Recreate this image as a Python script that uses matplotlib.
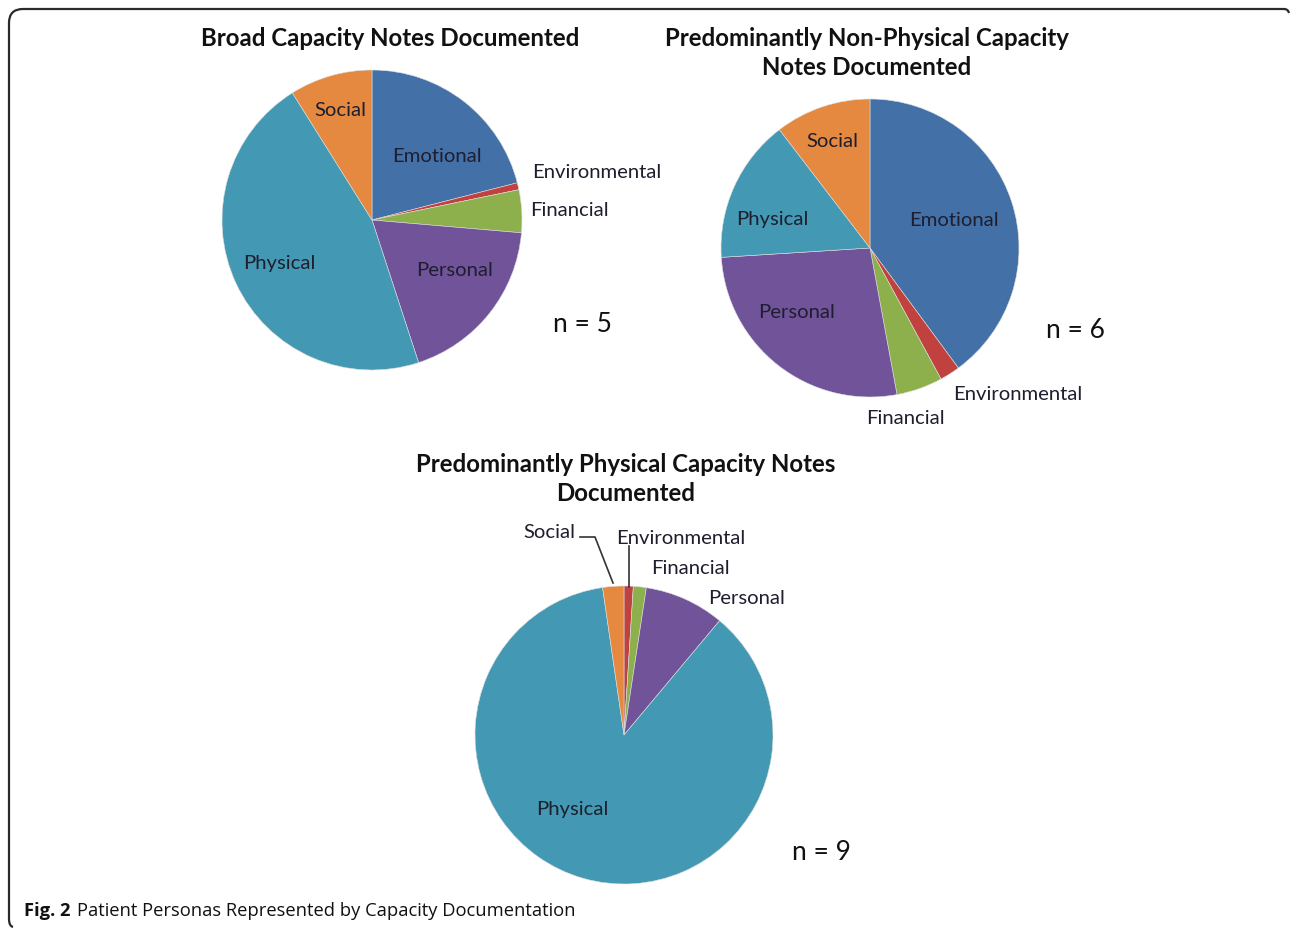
import matplotlib
matplotlib.use("Agg")
import matplotlib.pyplot as plt
from matplotlib.patches import PathPatch
from matplotlib.path import Path

W, H = 1290, 929

categories = ["Emotional", "Environmental", "Financial", "Personal", "Physical", "Social"]
broad_values = [21.0, 0.75, 4.6, 18.6, 46.1, 8.9]
nonphysical_values = [39.9, 2.2, 5.0, 26.9, 15.6, 10.4]
physical_values = [0.0, 1.0, 1.4, 8.7, 86.7, 2.3]
n_labels = ["n = 5", "n = 6", "n = 9"]
titles = ["Broad Capacity Notes Documented",
          "Predominantly Non-Physical Capacity\nNotes Documented",
          "Predominantly Physical Capacity Notes\nDocumented"]
caption_bold = "Fig. 2"
caption_text = "Patient Personas Represented by Capacity Documentation"

colors = ["#4470A8", "#C0413E", "#8DB04D", "#71539A", "#4399B3", "#E4893F"]

fig = plt.figure(figsize=(W / 100, H / 100), dpi=100)
ax = fig.add_axes([0, 0, 1, 1])


def P(x, y):
    return (x, H - y)


label_font = dict(family="Lato", fontsize=14.6, color="#1e1e2e")
title_font = dict(family="Lato", fontsize=17.3, fontweight="bold", color="#111111")
n_font = dict(family="Lato", fontsize=19, color="#111111")

pies = [
    (broad_values, P(372, 221), 150),
    (nonphysical_values, P(870, 249), 149),
    (physical_values, P(624, 736), 149),
]
for vals, c, r in pies:
    ax.pie(vals, colors=colors, startangle=90, counterclock=False,
           center=c, radius=r, frame=True,
           wedgeprops=dict(linewidth=0.4, edgecolor="#dddddd"))

lab1 = {"Social": (340, 110), "Emotional": (437, 156), "Environmental": (597, 173),
        "Financial": (569, 210), "Physical": (279, 263), "Personal": (455, 271)}
lab2 = {"Social": (832, 141), "Emotional": (954, 221), "Physical": (772, 219),
        "Personal": (797, 313), "Environmental": (1018, 394), "Financial": (905, 418)}
lab3 = {"Social": (549, 532), "Environmental": (681, 538), "Financial": (690, 569),
        "Personal": (747, 599), "Physical": (572, 810)}
for labs in (lab1, lab2, lab3):
    for name, (x, y) in labs.items():
        ax.text(*P(x, y), name, ha="center", va="center", **label_font)

# leader lines for pie 3
ax.plot([P(580, 538)[0], P(595, 538)[0], P(613, 584)[0]],
        [P(580, 538)[1], P(595, 538)[1], P(613, 584)[1]], color="#333333", lw=1.2)
ax.plot([P(629, 547)[0], P(629, 588)[0]], [P(629, 547)[1], P(629, 588)[1]],
        color="#333333", lw=1.2)

for txt, (x, y) in zip(n_labels, [(582, 324), (1075, 331), (821, 853)]):
    ax.text(*P(x, y), txt, ha="center", va="center", **n_font)

for txt, (x, y) in zip(titles, [(390, 38), (867, 53), (626, 479)]):
    ax.text(*P(x, y), txt, ha="center", va="center", linespacing=1.3, **title_font)

t1 = ax.text(*P(24, 911), caption_bold, ha="left", va="center",
             family="Open Sans", fontsize=13.2, fontweight="bold", color="#111111")
fig.canvas.draw()
bb = t1.get_window_extent()
ax.text(bb.x1 + 4, H - 911, caption_text, ha="left", va="center",
        family="Open Sans", fontsize=13.2, color="#111111")

# open frame: left and top edges with rounded corner
verts = [P(13, 928), P(9, 927), P(9, 920),
         P(9, 24),
         P(9, 10), P(23, 10),
         P(1284, 10),
         P(1288, 10), P(1289, 14)]
codes = [Path.MOVETO, Path.CURVE3, Path.CURVE3,
         Path.LINETO,
         Path.CURVE3, Path.CURVE3,
         Path.LINETO,
         Path.CURVE3, Path.CURVE3]
ax.add_patch(PathPatch(Path(verts, codes), fill=False, edgecolor="#2a2a2a", lw=1.6))

ax.set_xlim(0, W)
ax.set_ylim(0, H)
ax.set_aspect("auto")
ax.axis("off")

fig.savefig("out.png", dpi=100, facecolor="white")
